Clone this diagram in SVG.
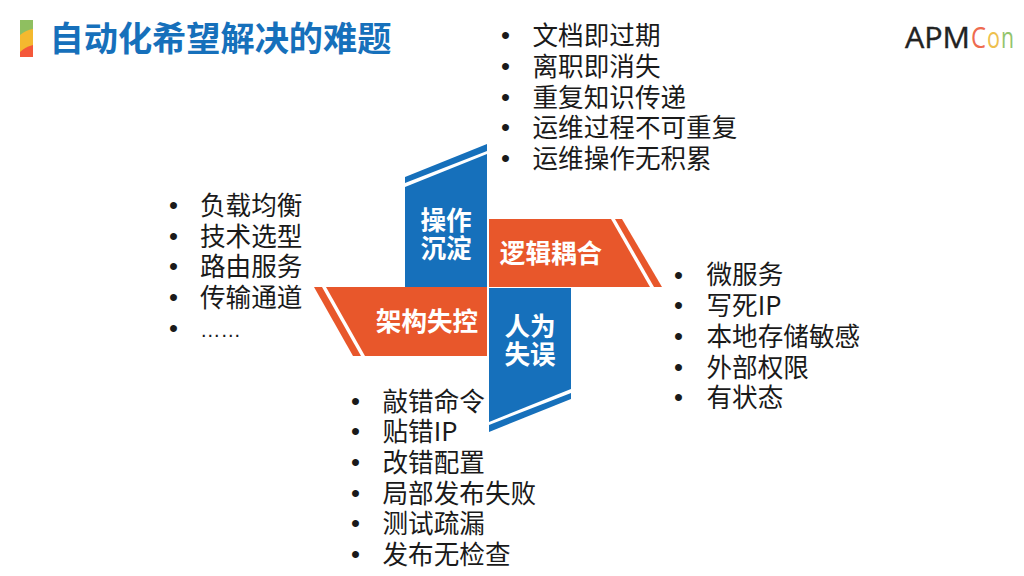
<svg xmlns="http://www.w3.org/2000/svg" width="1024" height="576" viewBox="0 0 1024 576">
<style>
text{font-family:"Noto Sans CJK SC","Liberation Sans",sans-serif}
.b{font-size:25.6px;fill:#1a1a1a}
.d{font-size:25.6px;fill:#1a1a1a;font-family:"Liberation Sans",sans-serif}
.l{font-size:25.6px;font-weight:700;fill:#fff;text-anchor:middle}
.blue{fill:#1670bb}.or{fill:#e8572b}
.lg{font-family:"Open Sans",sans-serif;font-size:30px}
</style>
<rect width="1024" height="576" fill="#fff"/>
<g id="title">
<rect x="20" y="20" width="13" height="37" fill="#8fbf60"/>
<path d="M20 35Q26 30 33 29V57H20Z" fill="#f4b92f"/>
<path d="M20 52Q25 47 33 45V57H20Z" fill="#f4583a"/>
<text x="49.500" y="51" font-size="34.200" font-weight="700" fill="#1670bb">自动化希望解决的难题</text>
</g>
<g id="logo">
<text class="lg" x="905" y="48" font-weight="400" fill="#222" stroke="#222" stroke-width="0.4" textLength="65" lengthAdjust="spacingAndGlyphs">APM</text>
<text class="lg" x="971" y="48" fill="#ee6b4f" textLength="15" lengthAdjust="spacingAndGlyphs">C</text>
<text class="lg" x="987" y="48" fill="#eec04e" textLength="13" lengthAdjust="spacingAndGlyphs">o</text>
<text class="lg" x="1001" y="48" fill="#93c46c" textLength="13" lengthAdjust="spacingAndGlyphs">n</text>
</g>
<g id="node-operation">
<polygon class="blue" points="405,177 487,144 487,151 405,183"/>
<polygon class="blue" points="405,187 487,154 487,287 405,287"/>
<text class="l" x="446" y="230">操作</text><text class="l" x="446" y="258">沉淀</text>
</g>
<g id="node-logic">
<polygon class="or" points="489,219 611,219 650,287 489,287"/>
<polygon class="or" points="615,219 622,219 662,287 654,287"/>
<text class="l" x="551" y="263">逻辑耦合</text>
</g>
<g id="node-arch">
<polygon class="or" points="326,287 487,287 487,356 365,356"/>
<polygon class="or" points="314,287 322,287 361,356 353,356"/>
<text class="l" x="427" y="331">架构失控</text>
</g>
<g id="node-human">
<polygon class="blue" points="489,288 571,288 571,389 489,422"/>
<polygon class="blue" points="571,393 571,399 489,432 489,425"/>
<text class="l" x="530" y="336">人为</text><text class="l" x="530" y="364">失误</text>
</g>
<g id="list-top">
<text class="d" x="501" y="44">•</text><text class="b" x="532.500" y="45">文档即过期</text>
<text class="d" x="501" y="75">•</text><text class="b" x="532.500" y="76">离职即消失</text>
<text class="d" x="501" y="106">•</text><text class="b" x="532.500" y="107">重复知识传递</text>
<text class="d" x="501" y="136">•</text><text class="b" x="532.500" y="137">运维过程不可重复</text>
<text class="d" x="501" y="167">•</text><text class="b" x="532.500" y="168">运维操作无积累</text>
</g>
<g id="list-left">
<text class="d" x="169" y="214">•</text><text class="b" x="200" y="215">负载均衡</text>
<text class="d" x="169" y="245">•</text><text class="b" x="200" y="246">技术选型</text>
<text class="d" x="169" y="275">•</text><text class="b" x="200" y="276">路由服务</text>
<text class="d" x="169" y="306">•</text><text class="b" x="200" y="307">传输通道</text>
<text class="d" x="169" y="337">•</text><text x="200" y="337" style="font-family:'Liberation Sans',sans-serif;font-size:20.5px;fill:#1a1a1a">……</text>
</g>
<g id="list-right">
<text class="d" x="674" y="284">•</text><text class="b" x="706.500" y="284">微服务</text>
<text class="d" x="674" y="314">•</text><text class="b" x="706.500" y="315">写死IP</text>
<text class="d" x="674" y="345">•</text><text class="b" x="706.500" y="346">本地存储敏感</text>
<text class="d" x="674" y="376">•</text><text class="b" x="706.500" y="377">外部权限</text>
<text class="d" x="674" y="406">•</text><text class="b" x="706.500" y="407">有状态</text>
</g>
<g id="list-bottom">
<text class="d" x="351" y="410">•</text><text class="b" x="382.500" y="411">敲错命令</text>
<text class="d" x="351" y="440">•</text><text class="b" x="382.500" y="441">贴错IP</text>
<text class="d" x="351" y="471">•</text><text class="b" x="382.500" y="472">改错配置</text>
<text class="d" x="351" y="502">•</text><text class="b" x="382.500" y="503">局部发布失败</text>
<text class="d" x="351" y="532">•</text><text class="b" x="382.500" y="533">测试疏漏</text>
<text class="d" x="351" y="563">•</text><text class="b" x="382.500" y="564">发布无检查</text>
</g>
</svg>
